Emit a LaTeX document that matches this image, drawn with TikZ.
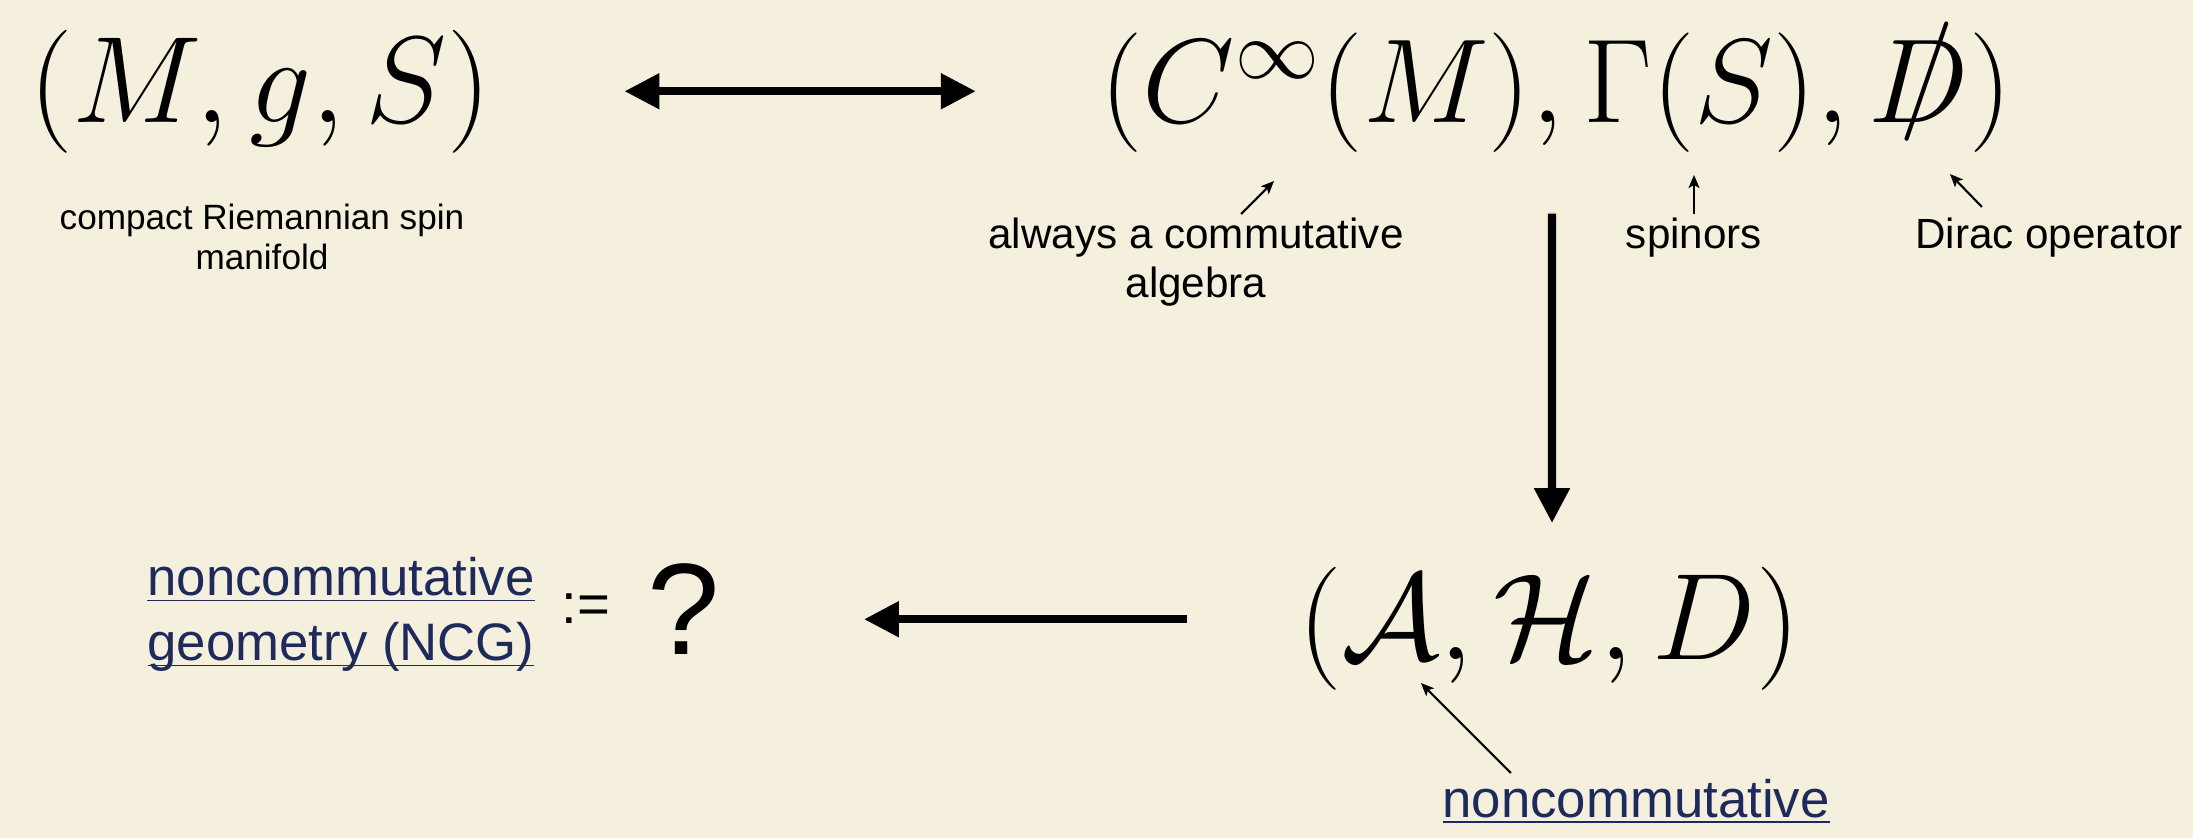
\RequirePackage{fix-cm}
\documentclass[tikz,border=0pt]{standalone}
\usepackage{slashed}
\usepackage{fontspec}
\newfontfamily\helv{Liberation Sans}
\usetikzlibrary{arrows.meta}

\definecolor{paper}{RGB}{245,240,221}
\definecolor{navy}{RGB}{30,42,92}
\newcommand\ulink[1]{\underline{\smash{#1}}}

\tikzset{
  tuple/.style={anchor=base,inner sep=0pt,font=\fontsize{35}{42}\selectfont},
  remark/.style={anchor=north,inner sep=0pt,align=center,font=\helv\fontsize{12}{14}\selectfont},
  link/.style={inner sep=0pt,align=center,text=navy,font=\helv\fontsize{15}{18.5}\selectfont},
  mainarrow/.style={line width=2.3pt,-{Triangle[length=0.35cm,width=0.34cm]}},
  twoway/.style={line width=2.3pt,{Triangle[length=0.35cm,width=0.34cm]}-{Triangle[length=0.35cm,width=0.34cm]}},
  pointer/.style={line width=0.6pt,-{Stealth[length=0.13cm,width=0.11cm,inset=0.03cm]}},
}

\begin{document}
\begin{tikzpicture}[x=0.01cm,y=-0.01cm]
\useasboundingbox[fill=paper] (0,0) rectangle (2193,838);

% manifold, its spectral data, the abstract triple
\node[tuple] (mgs) at (260,122) {$(M,g,S)$};
\node[tuple,font=\fontsize{34}{41}\selectfont] (spin) at (1556,122) {$(C^\infty(M),\Gamma(S),\slashed{D})$};
\node[tuple] (ahd) at (1549,659) {$(\mathcal{A},\mathcal{H},D)$};

\node[remark,font=\helv\fontsize{10}{11.5}\selectfont] (mgsnote) at (262,203) {compact Riemannian spin\\manifold};
\node[remark] (algnote) at (1196,217) {always a commutative\\algebra};
\node[remark] (spinnote) at (1694,217) {spinors};
\node[remark] (diracnote) at (2049,217) {Dirac operator};

\node[link,anchor=north] (ncg) at (341,595) {\ulink{noncommutative}\\\ulink{geometry (NCG)}};
\node[inner sep=0pt,font=\helv\fontsize{16}{19}\selectfont] (defeq) at (586,609) {:=};
\node[inner sep=0pt,font=\helv\fontsize{37}{44}\selectfont] (query) at (684,609) {?};
\node[link,anchor=base] (ncnote) at (1636,817) {\ulink{noncommutative}};

% big arrows
\coordinate (fro) at ([xshift=1.33cm]mgs.east);
\draw[twoway,shorten >=1.24cm] (fro) -- (fro -| spin.west);
\draw[mainarrow] ([xshift=-0.04cm,yshift=-0.61cm]spin.south) -- ([xshift=0.03cm,yshift=0.43cm]ahd.north);
\coordinate (back) at ([xshift=-1.1cm,yshift=0.09cm]ahd.west);
\draw[mainarrow,shorten >=1.43cm] (back) -- (back -| query.east);

% small pointers
\draw[pointer] ([xshift=0.45cm,yshift=0.03cm]algnote.north) -- ++(33,-33);
\draw[pointer] ([yshift=0.03cm]spinnote.north) -- ++(0,-39);
\draw[pointer] ([xshift=-0.67cm,yshift=0.1cm]diracnote.north) -- ++(-32,-33);
\draw[pointer] ([xshift=-1.25cm,yshift=0.44cm]ncnote.base) -- ++(-90,-90);
\end{tikzpicture}
\end{document}
